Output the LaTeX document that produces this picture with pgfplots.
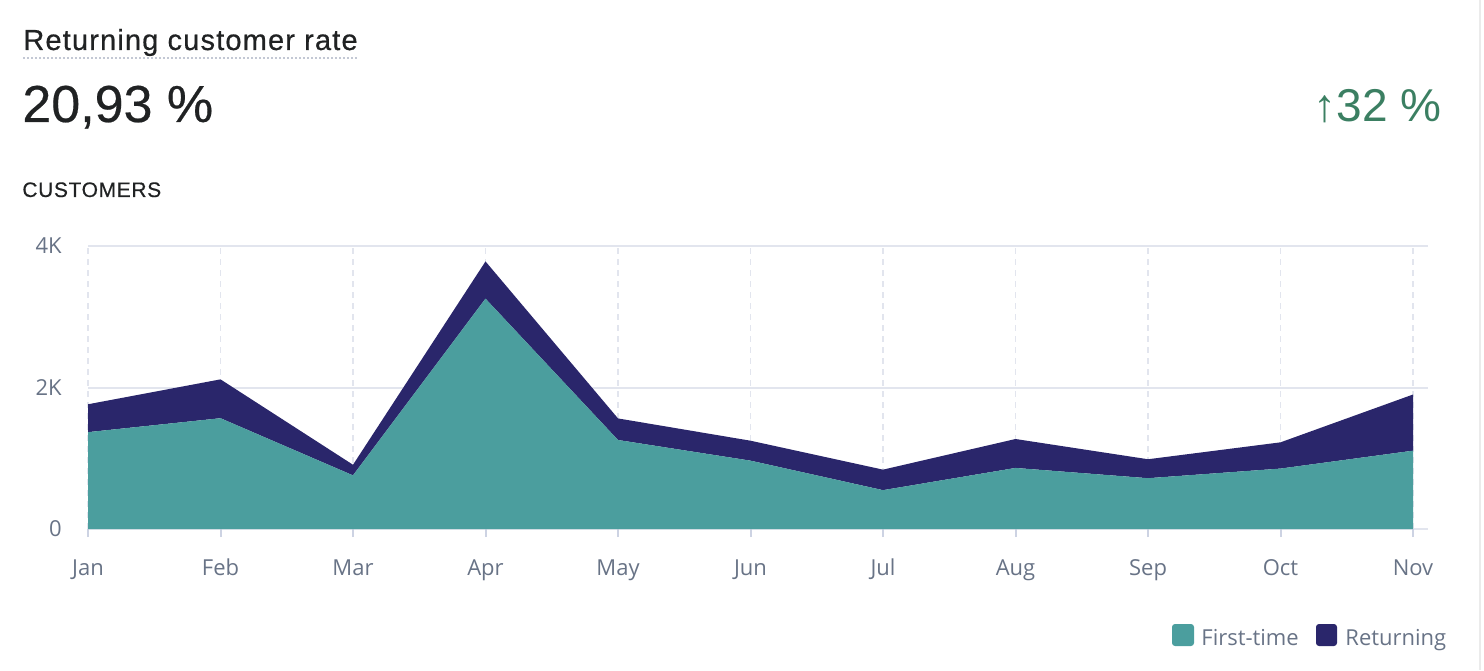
\documentclass[border=0pt]{standalone}
\usepackage{fontspec}
\usepackage{pgfplots}
\usepackage{pgfplotstable}
\pgfplotsset{compat=1.18}
\setmainfont{Liberation Sans}
\newfontfamily\tickfont{Open Sans}
\newfontfamily\medfont[FakeBold=0.6, LetterSpace=4]{Liberation Sans}
\newfontfamily\capfont[FakeBold=0.4, LetterSpace=3]{Liberation Sans}
\newfontfamily\bigfont[FakeBold=0.4]{Liberation Sans}
\definecolor{teal1}{HTML}{4B9E9E}
\definecolor{navy1}{HTML}{2A266B}
\definecolor{gridc}{HTML}{E2E5EE}
\definecolor{tickc}{HTML}{CDD3E3}
\definecolor{labc}{HTML}{687386}
\definecolor{darktxt}{HTML}{202223}
\definecolor{greentxt}{HTML}{3B7F62}
\definecolor{dotc}{HTML}{C3C8D4}

\pgfplotstableread{
x first returning
0  1369 394
1  1566 549
2  758  150
3  3256 526
4  1258 305
5  966  282
6  549  290
7  863  409
8  718  268
9  854  371
10 1107 794
}\custdata

\begin{document}
\begin{tikzpicture}
\path[use as bounding box] (0,0) rectangle (742pt,335pt);
\draw[draw=black!8, line width=1pt] (740pt,0) -- (740pt,335pt);
% headings
\node[anchor=base west, inner sep=0pt, text=darktxt, font=\medfont\fontsize{14.5}{16}\selectfont] at (11.5pt,310pt) {Returning customer rate};
\draw[dotc, line width=1pt, dash pattern=on 1pt off 1pt] (11.5pt,306pt) -- (179pt,306pt);
\node[anchor=base west, inner sep=0pt, text=darktxt, font=\bigfont\fontsize{26}{28}\selectfont] at (11pt,274pt) {20,93 \%};
\node[anchor=base east, inner sep=0pt, text=greentxt, font=\fontsize{23}{26}\selectfont] at (721pt,274pt) {↑32 \%};
\node[anchor=base west, inner sep=0pt, text=darktxt, font=\capfont\fontsize{10.5}{12}\selectfont] at (11pt,236.5pt) {CUSTOMERS};
\begin{axis}[
  at={(44pt,70.5pt)}, anchor=south west,
  scale only axis, width=670pt, height=141.5pt,
  xmin=0, xmax=10.113, ymin=0, ymax=4000,
  stack plots=y,
  axis line style={draw=none},
  xtick={0,...,10},
  xticklabels={Jan,Feb,Mar,Apr,May,Jun,Jul,Aug,Sep,Oct,Nov},
  ytick={0,2000,4000},
  yticklabels={0,2K,4K},
  scaled y ticks=false,
  xtick pos=bottom, ytick pos=left,
  tick align=outside,
  major tick length=4pt,
  xtick style={draw=tickc, line width=1pt},
  ytick style={draw=none},
  xmajorgrids, ymajorgrids,
  x grid style={draw=gridc, line width=0.75pt, dash pattern=on 3pt off 2.5pt},
  y grid style={draw=gridc, line width=1pt},
  ticklabel style={font=\tickfont\fontsize{11}{13}\selectfont, text=labc},
  xticklabel style={anchor=base, inner sep=0pt, yshift=-19.25pt},
  yticklabel style={anchor=east, inner sep=0pt, xshift=-9pt},
  clip=false,
]
\addplot[fill=teal1, draw=none] table[x=x, y=first] {\custdata} \closedcycle;
\addplot[fill=navy1, draw=none] table[x=x, y=returning] {\custdata} \closedcycle;
\end{axis}
% legend
\fill[teal1, rounded corners=1.5pt] (586pt,12pt) rectangle (597pt,23pt);
\node[anchor=base west, inner sep=0pt, text=labc, font=\tickfont\fontsize{11}{13}\selectfont] at (600.5pt,12.5pt) {First-time};
\fill[navy1, rounded corners=1.5pt] (658pt,12pt) rectangle (668.5pt,23pt);
\node[anchor=base west, inner sep=0pt, text=labc, font=\tickfont\fontsize{11}{13}\selectfont] at (672.5pt,12.5pt) {Returning};
\end{tikzpicture}
\end{document}
